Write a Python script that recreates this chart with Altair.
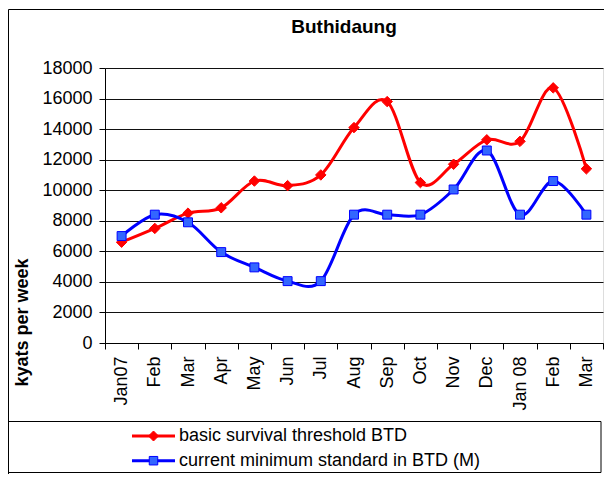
import altair as alt
import pandas as pd

# ---- data ----
month_labels = ["Jan07", "Feb", "Mar", "Apr", "May", "Jun", "Jul", "Aug", "Sep",
                "Oct", "Nov", "Dec", "Jan 08", "Feb", "Mar"]
series_names = ["basic survival threshold BTD", "current minimum standard in BTD (M)"]
basic_survival = [6600, 7500, 8500, 8850, 10600, 10300, 11000, 14100, 15800,
                  10500, 11700, 13300, 13200, 16700, 11400]
current_minimum = [7000, 8400, 7900, 5950, 4950, 4050, 4050, 8400, 8400,
                   8400, 10050, 12600, 8400, 10600, 8400]
y_ticks = list(range(0, 18001, 2000))

FONT = "Liberation Sans"
FS = 18
RED = "#ff0000"
BLUE = "#0000ff"
BLUE_FILL = "#3366ff"
W, H = 498, 275

idx = list(range(len(month_labels)))
df = pd.DataFrame({
    "idx": idx * 2,
    "series": [series_names[0]] * len(idx) + [series_names[1]] * len(idx),
    "value": basic_survival + current_minimum,
})

label_expr = "[" + ",".join("'%s'" % m for m in month_labels) + "][datum.value]"

x_enc = alt.X(
    "idx:O",
    bandPosition=0.5,
    scale=alt.Scale(type="band", paddingInner=0, paddingOuter=0),
    axis=alt.Axis(
        title=None, labelExpr=label_expr, labelAngle=-90, tickBand="extent",
        labelFontSize=FS, labelFont=FONT, labelColor="black", labelPadding=7,
        tickSize=6, tickColor="black", domainColor="black", grid=False,
    ),
)
y_enc = alt.Y(
    "value:Q",
    scale=alt.Scale(domain=[0, 18000], nice=False, zero=True),
    axis=alt.Axis(
        values=y_ticks, format="d", title="kyats per week",
        titleFont=FONT, titleFontSize=FS, titleFontWeight="bold", titleColor="black",
        titleAngle=-90, titleX=-83, titleY=254, titleAlign="center", titleBaseline="middle",
        labelFontSize=FS, labelFont=FONT, labelColor="black", labelPadding=7,
        tickSize=6, tickColor="black", domainColor="black",
        grid=True, gridColor="#111111", gridWidth=1, gridOpacity=1,
    ),
)

color_scale = alt.Scale(domain=series_names, range=[RED, BLUE])

lines = alt.Chart(df).mark_line(interpolate="cardinal", strokeWidth=3).encode(
    x=x_enc, y=y_enc,
    color=alt.Color("series:N", scale=color_scale, legend=None),
    order=alt.Order("idx:O"),
)
red_pts = alt.Chart(df).transform_filter(
    alt.datum.series == series_names[0]
).mark_point(shape="diamond", filled=True, size=110, fill=RED, stroke=RED, strokeWidth=1, opacity=1).encode(
    x=x_enc, y=y_enc
)
blue_pts = alt.Chart(df).transform_filter(
    alt.datum.series == series_names[1]
).mark_point(shape="square", filled=True, size=80, fill=BLUE_FILL, stroke=BLUE, strokeWidth=1, opacity=1).encode(
    x=x_enc, y=y_enc
)
plot = alt.layer(lines, red_pts, blue_pts)

# ---- legend, drawn from the series names ----
legend_df = pd.DataFrame({"series": series_names})
leg_y = alt.Y("series:N", scale=alt.Scale(type="point", domain=series_names, range=[368, 392.7], padding=0),
              axis=None)
leg_rule = alt.Chart(legend_df).mark_rule(strokeWidth=3).encode(
    x=alt.value(27), x2=alt.value(70), y=leg_y,
    color=alt.Color("series:N", scale=color_scale, legend=None),
)
leg_pts = alt.Chart(legend_df).mark_point(filled=True, opacity=1, strokeWidth=1).encode(
    x=alt.value(48.5), y=leg_y,
    shape=alt.Shape("series:N", scale=alt.Scale(domain=series_names, range=["diamond", "square"]), legend=None),
    size=alt.Size("series:N", scale=alt.Scale(domain=series_names, range=[100, 72]), legend=None),
    fill=alt.Fill("series:N", scale=alt.Scale(domain=series_names, range=[RED, BLUE_FILL]), legend=None),
    stroke=alt.Stroke("series:N", scale=color_scale, legend=None),
)
leg_text = alt.Chart(legend_df).mark_text(
    align="left", baseline="middle", font=FONT, fontSize=FS, color="black"
).encode(x=alt.value(74), y=leg_y, text="series:N")
legend = alt.layer(leg_rule, leg_pts, leg_text)

# ---- chart frame and legend box ----
box_df = pd.DataFrame({"k": [0]})
frame = alt.Chart(box_df).mark_rect(fillOpacity=0, stroke="black", strokeWidth=1).encode(
    x=alt.value(-96.5), x2=alt.value(W + 1.5), y=alt.value(-58.5), y2=alt.value(430)
)
legend_box = alt.Chart(box_df).mark_rect(fillOpacity=0, stroke="black", strokeWidth=1).encode(
    x=alt.value(-96.5), x2=alt.value(W - 2), y=alt.value(353.5), y2=alt.value(404.5)
)

chart = alt.layer(frame, legend_box, plot, legend).resolve_scale(y="independent").properties(
    width=W, height=H,
    title=alt.TitleParams("Buthidaung", font=FONT, fontSize=19, fontWeight="bold", color="black",
                          anchor="middle", frame="group", dx=-10, offset=-28),
    autosize=alt.AutoSizeParams(type="none"),
    padding={"left": 97, "top": 60, "right": 1, "bottom": 131},
).configure_view(
    fill="#c0c0c0", stroke="#808080", strokeWidth=1
).configure(
    background="white", font=FONT
)

chart.save("out.html", embed_options={"renderer": "svg", "actions": False})
